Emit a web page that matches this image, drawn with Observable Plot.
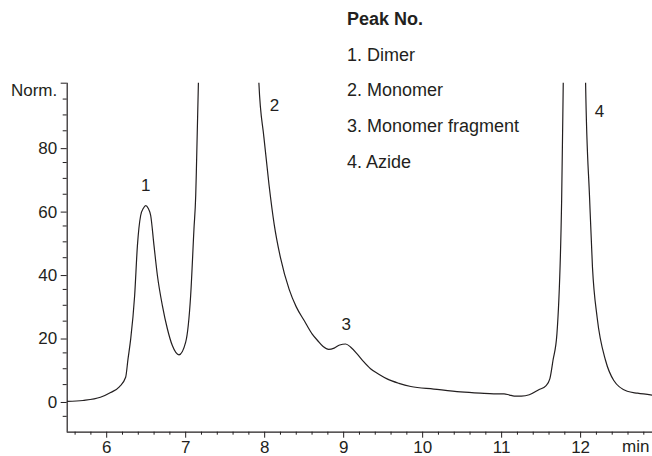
<!DOCTYPE html>
<html>
<head>
<meta charset="utf-8">
<script src="https://cdn.jsdelivr.net/npm/d3@7"></script>
<script src="https://cdn.jsdelivr.net/npm/@observablehq/plot@0.6"></script>
<style>
  html, body { margin: 0; padding: 0; background: #fff; }
  #wrap { position: relative; width: 652px; height: 456px; font-family: "Liberation Sans", Arial, sans-serif; color: #231f20; }
  #legend { position: absolute; left: 347px; top: 2px; font-size: 18px; line-height: 35.7px; white-space: nowrap; }
  #legend .title { font-weight: bold; }
  #chart { position: absolute; left: 0; top: 0; }
</style>
</head>
<body>
<div id="wrap">
  <div id="chart"></div>
  <div id="legend"></div>
</div>
<script>
// Retention time (min) and normalized signal
const time = [5.50, 5.70, 5.92, 6.05, 6.16, 6.24, 6.27, 6.304, 6.354, 6.389, 6.43, 6.465, 6.494, 6.525, 6.557, 6.599, 6.642, 6.705, 6.768, 6.831, 6.915, 7.00, 7.063, 7.105, 7.127, 7.135, 7.161, 7.30, 7.55, 7.75, 7.927, 7.99, 8.055, 8.12, 8.20, 8.31, 8.40, 8.50, 8.60, 8.67, 8.74, 8.81, 8.88, 8.95, 9.025, 9.09, 9.17, 9.25, 9.34, 9.45, 9.55, 9.70, 9.85, 10.14, 10.48, 10.73, 10.90, 11.03, 11.10, 11.16, 11.25, 11.35, 11.47, 11.56, 11.61, 11.65, 11.70, 11.76, 11.78, 11.85, 11.92, 12.00, 12.063, 12.114, 12.15, 12.21, 12.316, 12.42, 12.59, 12.72, 12.91];
const signal = [-0.3, 0.0, 1.0, 2.5, 4.3, 7.3, 13.1, 19.4, 33.1, 48.8, 58.3, 60.6, 61.4, 60.6, 58.3, 48.8, 39.4, 29.9, 22.6, 17.3, 14.4, 18.4, 33.1, 54.1, 64.6, 72, 100, 400, 900, 400, 100, 83, 68, 55.6, 45, 35, 29.5, 25.2, 21, 18.9, 17, 16.1, 16.5, 17.5, 17.8, 16.8, 14.7, 12.3, 10, 8.2, 6.8, 5.4, 4.4, 3.6, 2.7, 2.3, 2.1, 2.1, 1.7, 1.4, 1.4, 1.8, 3.4, 4.6, 6.8, 12.6, 21, 63.5, 100, 250, 350, 250, 100, 63.5, 42, 26, 12.6, 6.3, 2.9, 2.3, 1.7];

// Peak annotations
const peakLabels = ["1", "2", "3", "4"];
const peakTime = [6.494, 8.123, 9.034, 12.24];
const peakValue = [67.7, 92.9, 23.9, 91];

// Legend
const legendTitle = "Peak No.";
const legendItems = ["1. Dimer", "2. Monomer", "3. Monomer fragment", "4. Azide"];

// Axes
const xTicks = [6, 7, 8, 9, 10, 11, 12];
const xMinorTicks = [5.6, 5.8, 6.2, 6.4, 6.6, 6.8, 7.2, 7.4, 7.6, 7.8, 8.2, 8.4, 8.6, 8.8, 9.2, 9.4, 9.6, 9.8, 10.2, 10.4, 10.6, 10.8, 11.2, 11.4, 11.6, 11.8, 12.2, 12.4, 12.6, 12.8];
const yTicks = [0, 20, 40, 60, 80];
const yMinorTicks = [-5, 5, 10, 15, 25, 30, 35, 45, 50, 55, 65, 70, 75, 85, 90, 95];
const yTopTick = [100];
const xLabel = "min";
const yLabel = "Norm.";

const ink = "#231f20";
const data = time.map((t, i) => ({t, v: signal[i]}));
const peaks = peakLabels.map((l, i) => ({l, t: peakTime[i], v: peakValue[i]}));

const chart = Plot.plot({
  width: 652,
  height: 456,
  marginLeft: 66.7,
  marginRight: 0,
  marginTop: 82.7,
  marginBottom: 24.3,
  style: {fontFamily: '"Liberation Sans", Arial, sans-serif', color: ink, background: "transparent", overflow: "visible"},
  x: {domain: [5.5, 12.91]},
  y: {domain: [-10, 100]},
  marks: [
    Plot.ruleX([5.5], {stroke: ink, strokeWidth: 1.2}),
    Plot.ruleY([-10], {stroke: ink, strokeWidth: 1.2}),
    Plot.axisX({ticks: xTicks, tickSize: 6, tickPadding: 3, fontSize: 17, tickFormat: d => d, label: null, stroke: ink, fill: ink}),
    Plot.axisX({ticks: xMinorTicks, tickSize: 3, text: null, label: null, stroke: ink}),
    Plot.axisY({ticks: yTicks, tickSize: 6, tickPadding: 4, fontSize: 17, tickFormat: d => d, label: null, stroke: ink, fill: ink, dy: 2}),
    Plot.axisY({ticks: yMinorTicks, tickSize: 4, text: null, label: null, stroke: ink}),
    Plot.axisY({ticks: yTopTick, tickSize: 6, text: null, label: null, stroke: ink}),
    Plot.text([yLabel], {frameAnchor: "top-left", textAnchor: "end", lineAnchor: "middle", dx: -10, dy: 7, fontSize: 17, fill: ink}),
    Plot.text([xLabel], {frameAnchor: "bottom-right", textAnchor: "end", lineAnchor: "top", dx: -3, dy: 8, fontSize: 17, fill: ink}),
    Plot.line(data, {x: "t", y: "v", stroke: ink, strokeWidth: 1.2, curve: "monotone-x", clip: true}),
    Plot.text(peaks, {x: "t", y: "v", text: "l", fontSize: 17, fill: ink})
  ]
});
document.getElementById("chart").appendChild(chart);

const legend = document.getElementById("legend");
const title = document.createElement("div");
title.className = "title";
title.textContent = legendTitle;
legend.appendChild(title);
legendItems.forEach(s => {
  const d = document.createElement("div");
  d.textContent = s;
  legend.appendChild(d);
});
</script>
</body>
</html>
